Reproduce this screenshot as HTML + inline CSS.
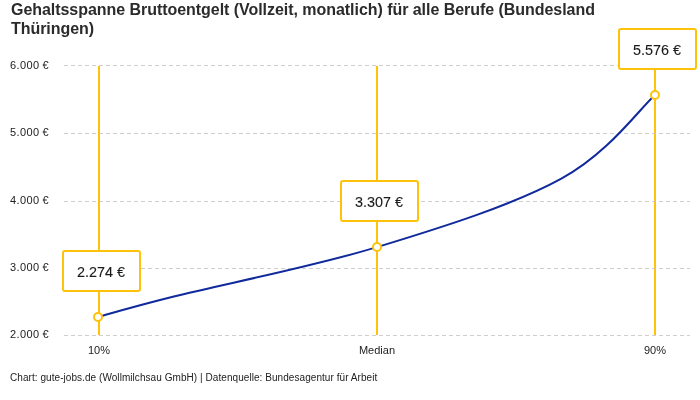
<!DOCTYPE html>
<html><head><meta charset="utf-8">
<style>
html,body{margin:0;padding:0;background:#fff;width:700px;height:400px;overflow:hidden;}
body{position:relative;font-family:"Liberation Sans",sans-serif;color:#222;-webkit-font-smoothing:antialiased;}
.t{position:absolute;white-space:nowrap;will-change:transform;}
#title{left:11px;top:0px;font-weight:bold;font-size:16px;line-height:19px;color:#2b2b2b;letter-spacing:-0.045px;}
.yl{left:10px;font-size:11px;line-height:12px;color:#222;letter-spacing:0.4px;word-spacing:-0.6px;}
.xl{font-size:11px;line-height:12px;color:#222;text-align:center;width:80px;}
#foot{left:10px;top:371.5px;font-size:10px;line-height:12px;color:#222;letter-spacing:0.06px;}
svg{position:absolute;left:0;top:0;}
.box{position:absolute;box-sizing:border-box;width:79px;height:42px;border:2px solid #ffc20a;border-radius:3px;background:#fff;
 font-size:15px;line-height:38px;padding-top:1px;text-align:center;color:#1a1a1a;will-change:transform;}
.box span{display:inline-block;transform:scaleX(0.96);-webkit-text-stroke:0.12px #1a1a1a;}
</style></head><body>
<svg width="700" height="400" viewBox="0 0 700 400">
 <g stroke="#ffc20a" stroke-width="2">
  <line x1="99" y1="66" x2="99" y2="335"/>
  <line x1="377" y1="66" x2="377" y2="335"/>
  <line x1="655" y1="66" x2="655" y2="335"/>
 </g>
 <g stroke="#c6c6c6" stroke-opacity="0.85" stroke-width="1" stroke-dasharray="4 3">
  <line x1="64" y1="65.5" x2="690" y2="65.5"/>
  <line x1="64" y1="133.5" x2="690" y2="133.5"/>
  <line x1="64" y1="201.5" x2="690" y2="201.5"/>
  <line x1="64" y1="268.5" x2="690" y2="268.5"/>
  <line x1="64" y1="335.5" x2="690" y2="335.5"/>
 </g>
 <path fill="none" stroke="#10299c" stroke-width="2" d="M98.00,317.00C110.99,313.48,126.04,308.44,173.84,296.46C221.64,284.48,310.61,267.28,377.00,247.10C443.39,226.92,513.71,204.76,561.34,178.70C608.97,152.64,638.95,109.34,655.00,95.00"/>
 <g fill="#fff" stroke="#ffc20a" stroke-width="2">
  <circle cx="98" cy="317" r="4"/>
  <circle cx="377" cy="247" r="4"/>
  <circle cx="655" cy="95" r="4"/>
 </g>
</svg>
<div class="t" id="title">Gehaltsspanne Bruttoentgelt (Vollzeit, monatlich) für alle Berufe (Bundesland<br>Thüringen)</div>
<div class="t yl" style="top:59px">6.000 €</div>
<div class="t yl" style="top:126px">5.000 €</div>
<div class="t yl" style="top:194px">4.000 €</div>
<div class="t yl" style="top:261px">3.000 €</div>
<div class="t yl" style="top:328px">2.000 €</div>
<div class="t xl" style="left:59px;top:344px">10%</div>
<div class="t xl" style="left:337px;top:344px">Median</div>
<div class="t xl" style="left:615px;top:344px">90%</div>
<div class="box" style="left:62px;top:250px"><span>2.274 €</span></div>
<div class="box" style="left:340px;top:180px"><span>3.307 €</span></div>
<div class="box" style="left:618px;top:28px"><span>5.576 €</span></div>
<div class="t" id="foot">Chart: gute-jobs.de (Wollmilchsau GmbH) | Datenquelle: Bundesagentur für Arbeit</div>
</body></html>
